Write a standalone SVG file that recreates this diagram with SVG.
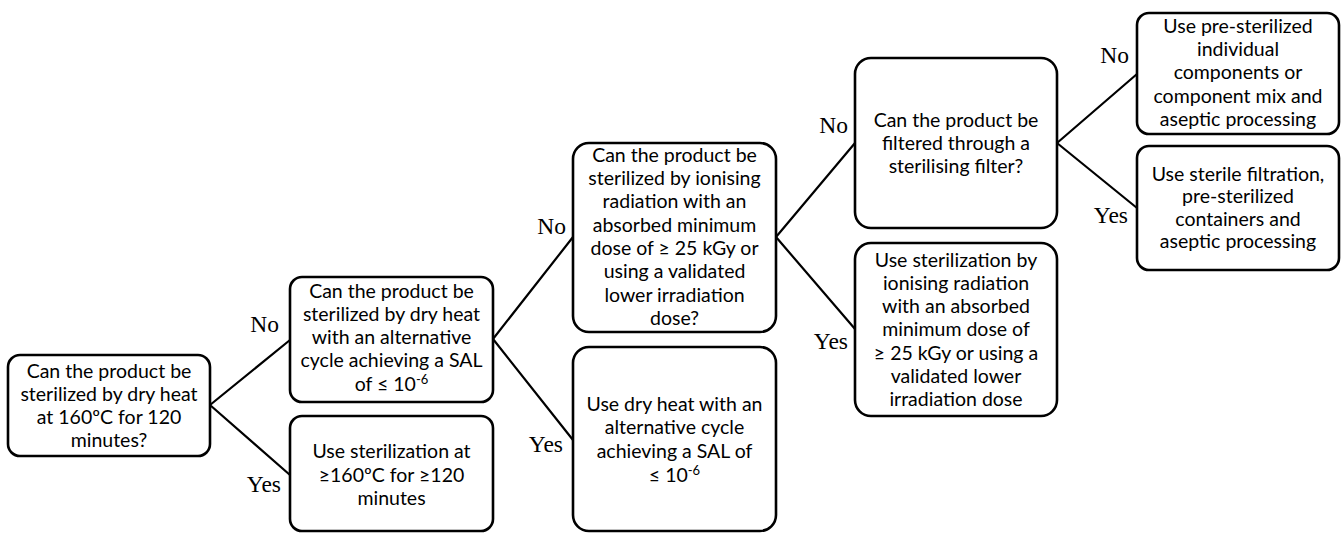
<svg xmlns="http://www.w3.org/2000/svg" width="1342" height="533" viewBox="0 0 1342 533">
<style>
.box{fill:#fff;stroke:#000;stroke-width:2.6}
.t{font-family:Lato,"Open Sans","Liberation Sans",sans-serif;font-size:19.5px;fill:#000;text-anchor:middle}
.lbl{font-family:"Liberation Serif","Times New Roman",serif;font-size:23.5px;fill:#000;text-anchor:end}
.c{fill:none;stroke:#000;stroke-width:2.2}
.sup{font-size:13px}
</style>
<rect width="1342" height="533" fill="#fff"/>
<g id="connectors">
<path class="c" d="M210 405 L290 340 M210 405 L290 475"/>
<path class="c" d="M493 339 L573 237 M493 339 L573 440"/>
<path class="c" d="M776 237 L855 143 M776 237 L855 329"/>
<path class="c" d="M1057 143 L1137 74 M1057 143 L1137 208"/>
<text class="lbl" x="279" y="332">No</text>
<text class="lbl" x="281" y="492">Yes</text>
<text class="lbl" x="566" y="234">No</text>
<text class="lbl" x="563" y="452">Yes</text>
<text class="lbl" x="848" y="133">No</text>
<text class="lbl" x="848" y="349">Yes</text>
<text class="lbl" x="1129" y="63">No</text>
<text class="lbl" x="1128" y="223">Yes</text>
</g>
<g id="n1">
<rect class="box" x="8" y="355" width="202" height="101" rx="12"/>
<text class="t" x="109" y="378">Can the product be</text>
<text class="t" x="109" y="401">sterilized by dry heat</text>
<text class="t" x="109" y="424">at 160ºC for 120</text>
<text class="t" x="109" y="447">minutes?</text>
</g>
<g id="n2">
<rect class="box" x="290" y="277" width="203" height="125" rx="12"/>
<text class="t" x="391.5" y="298">Can the product be</text>
<text class="t" x="391.5" y="321">sterilized by dry heat</text>
<text class="t" x="391.5" y="344">with an alternative</text>
<text class="t" x="391.5" y="367">cycle achieving a SAL</text>
<text class="t" x="391.5" y="391">of ≤ 10<tspan class="sup" dy="-7">-6</tspan></text>
</g>
<g id="n3">
<rect class="box" x="290" y="416" width="203" height="115" rx="12"/>
<text class="t" x="391.5" y="458">Use sterilization at</text>
<text class="t" x="391.5" y="482">≥160ºC for ≥120</text>
<text class="t" x="391.5" y="505">minutes</text>
</g>
<g id="n4">
<rect class="box" x="573" y="143" width="203" height="189" rx="16"/>
<text class="t" x="674.5" y="162">Can the product be</text>
<text class="t" x="674.5" y="185">sterilized by ionising</text>
<text class="t" x="674.5" y="208">radiation with an</text>
<text class="t" x="674.5" y="232">absorbed minimum</text>
<text class="t" x="674.5" y="255">dose of ≥ 25 kGy or</text>
<text class="t" x="674.5" y="278">using a validated</text>
<text class="t" x="674.5" y="302">lower irradiation</text>
<text class="t" x="674.5" y="325">dose?</text>
</g>
<g id="n5">
<rect class="box" x="573" y="347" width="203" height="184" rx="16"/>
<text class="t" x="674.5" y="411">Use dry heat with an</text>
<text class="t" x="674.5" y="434">alternative cycle</text>
<text class="t" x="674.5" y="458">achieving a SAL of</text>
<text class="t" x="674.5" y="482">≤ 10<tspan class="sup" dy="-7">-6</tspan></text>
</g>
<g id="n6">
<rect class="box" x="855" y="58" width="202" height="170" rx="16"/>
<text class="t" x="956" y="127">Can the product be</text>
<text class="t" x="956" y="150">filtered through a</text>
<text class="t" x="956" y="173">sterilising filter?</text>
</g>
<g id="n7">
<rect class="box" x="855" y="243" width="202" height="173" rx="16"/>
<text class="t" x="956" y="267">Use sterilization by</text>
<text class="t" x="956" y="290">ionising radiation</text>
<text class="t" x="956" y="313">with an absorbed</text>
<text class="t" x="956" y="336">minimum dose of</text>
<text class="t" x="956" y="360">≥ 25 kGy or using a</text>
<text class="t" x="956" y="383">validated lower</text>
<text class="t" x="956" y="406">irradiation dose</text>
</g>
<g id="n8">
<rect class="box" x="1137" y="13" width="202" height="121" rx="12"/>
<text class="t" x="1238" y="33">Use pre-sterilized</text>
<text class="t" x="1238" y="56">individual</text>
<text class="t" x="1238" y="79">components or</text>
<text class="t" x="1238" y="103">component mix and</text>
<text class="t" x="1238" y="126">aseptic processing</text>
</g>
<g id="n9">
<rect class="box" x="1137" y="146" width="202" height="124" rx="12"/>
<text class="t" x="1238" y="181">Use sterile filtration,</text>
<text class="t" x="1238" y="203">pre-sterilized</text>
<text class="t" x="1238" y="226">containers and</text>
<text class="t" x="1238" y="248">aseptic processing</text>
</g>
</svg>
